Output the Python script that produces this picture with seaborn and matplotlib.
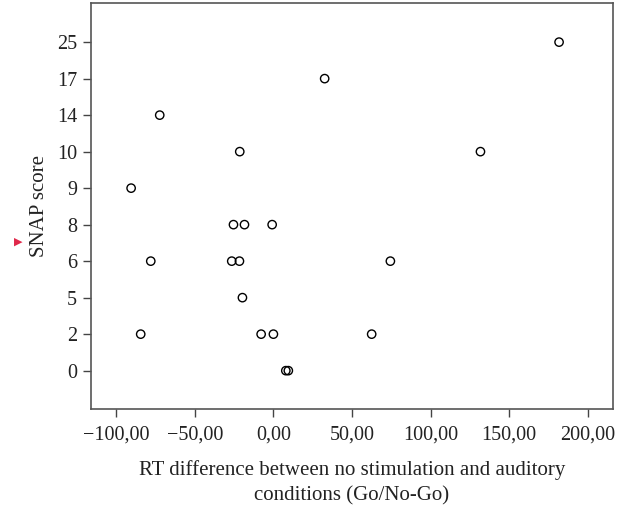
import numpy as np
import pandas as pd
import seaborn as sns
import matplotlib
matplotlib.use('Agg')
import matplotlib.pyplot as plt
from matplotlib.ticker import FuncFormatter

# SNAP score levels shown on the (evenly spaced) y axis
snap_levels = [0, 2, 5, 6, 8, 9, 10, 14, 17, 25]

# RT difference (Go/No-Go) and SNAP score of each subject
rt_diff = [181.7, 32.6, -72.3, -21.4, 131.7, -90.5,
           -25.4, -18.4, -0.8,
           -78.0, -26.5, -21.6, 74.4,
           -19.7,
           -84.4, -7.8, 0.0, 62.5,
           7.9, 9.5]
snap = [25, 17, 14, 10, 10, 9,
        8, 8, 8,
        6, 6, 6, 6,
        5,
        2, 2, 2, 2,
        0, 0]

x_ticks = [-100, -50, 0, 50, 100, 150, 200]

df = pd.DataFrame({'rt': rt_diff, 'snap': snap})
df['pos'] = df['snap'].map({v: i for i, v in enumerate(snap_levels)})

sns.set_style('white')
plt.rcParams['font.family'] = ['Liberation Serif', 'DejaVu Sans']

fig = plt.figure(figsize=(6.33, 5.09), dpi=100)
ax = fig.add_axes([0.1438, 0.1965, 0.8246, 0.7982])

sns.scatterplot(data=df, x='rt', y='pos', ax=ax, s=36, marker='o',
                facecolor='none', edgecolor='black', linewidth=1.0)

ax.set_xlim(-116, 216)
ax.set_ylim(-1.05, 10.08)
ax.set_xticks(x_ticks)
ax.xaxis.set_major_formatter(FuncFormatter(
    lambda v, p: ('{:.2f}'.format(v)).replace('.', ',').replace('-', '\u2212')))
ax.set_yticks(range(len(snap_levels)))
ax.set_yticklabels([str(v) for v in snap_levels])

ax.tick_params(axis='both', which='major', direction='out', length=6, width=1.0,
               color='#444444', labelsize=14.5, pad=4, labelcolor='#222222',
               bottom=True, left=True)
ax.tick_params(axis='x', pad=6)
for sp in ax.spines.values():
    sp.set_visible(True)
    sp.set_color('#555555')
    sp.set_linewidth(1.2)

ax.set_xlabel('RT difference between no stimulation and auditory\nconditions (Go/No-Go)',
              fontsize=15, color='#222222', linespacing=1.45, labelpad=11)
ax.set_ylabel('SNAP score', fontsize=15, color='#222222', labelpad=6)

# small red marker next to the y label
fig.text(18 / 633, 1 - 242 / 509, '\u25B6', color='#e0284a', fontsize=8,
         ha='center', va='center', family='DejaVu Sans')

fig.savefig('out.png', dpi=100)
